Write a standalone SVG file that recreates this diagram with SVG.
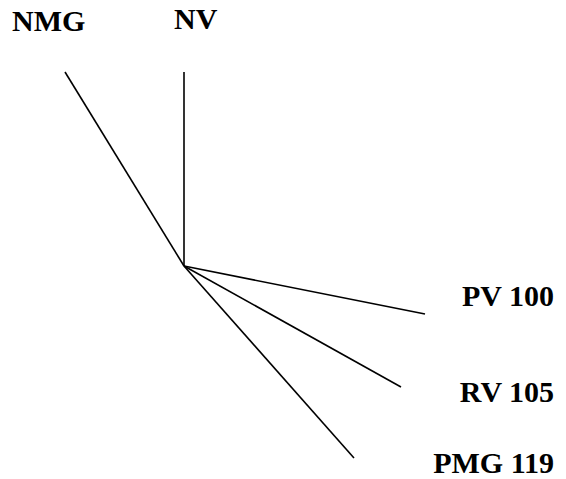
<svg xmlns="http://www.w3.org/2000/svg" width="566" height="479" viewBox="0 0 566 479">
<style>
.l{stroke:#000;stroke-width:1.6;fill:none}
.t{font-family:"Liberation Serif","Times New Roman",serif;font-weight:bold;font-size:30px;fill:#000}
</style>
<rect width="566" height="479" fill="#fff"/>
<g id="connectors">
<line class="l" x1="65" y1="72" x2="184" y2="266"/>
<line class="l" x1="184" y1="72" x2="184" y2="266"/>
<line class="l" x1="184" y1="266" x2="425" y2="314"/>
<line class="l" x1="184" y1="266" x2="401" y2="387"/>
<line class="l" x1="184" y1="266" x2="354" y2="458"/>
</g>
<g id="NMG"><text class="t" x="12" y="31">NMG</text></g>
<g id="NV"><text class="t" x="174" y="29">NV</text></g>
<g id="PV100"><text class="t" x="554" y="306" text-anchor="end">PV 100</text></g>
<g id="RV105"><text class="t" x="554" y="402" text-anchor="end">RV 105</text></g>
<g id="PMG119"><text class="t" x="554" y="473" text-anchor="end">PMG 119</text></g>
</svg>
